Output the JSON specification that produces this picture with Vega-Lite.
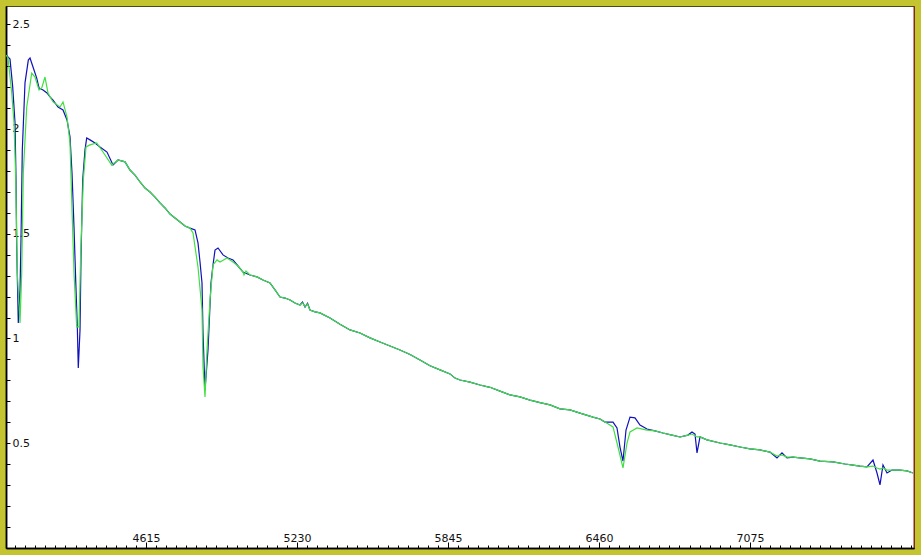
{
  "$schema": "https://vega.github.io/schema/vega-lite/v6.json",
  "width": 908,
  "height": 542,
  "autosize": {"type": "none"},
  "padding": {"left": 6, "top": 6, "right": 7, "bottom": 7},
  "background": "#c4c430",
  "config": {
    "view": {"fill": "white", "stroke": "#4a4a18", "strokeWidth": 1},
    "axis": {"labelFont": "DejaVu Sans", "labelFontSize": 11, "labelColor": "#111", "domainColor": "#000", "tickColor": "#000", "grid": false, "title": null, "domainWidth": 1.5}
  },
  "datasets": {
    "blue": [
      {"w": 4044.7, "f": 2.353}, {"w": 4061.0, "f": 2.334}, {"w": 4072.0, "f": 2.201}, {"w": 4081.4, "f": 2.029},
      {"w": 4085.5, "f": 1.757}, {"w": 4088.3, "f": 1.437}, {"w": 4094.8, "f": 1.074}, {"w": 4101.8, "f": 1.232},
      {"w": 4105.8, "f": 1.470}, {"w": 4111.1, "f": 1.900}, {"w": 4122.1, "f": 2.220}, {"w": 4135.6, "f": 2.329},
      {"w": 4142.5, "f": 2.339}, {"w": 4154.7, "f": 2.296}, {"w": 4169.8, "f": 2.243}, {"w": 4179.2, "f": 2.196},
      {"w": 4195.5, "f": 2.186}, {"w": 4211.7, "f": 2.172}, {"w": 4224.0, "f": 2.153}, {"w": 4236.2, "f": 2.138},
      {"w": 4256.6, "f": 2.105}, {"w": 4276.9, "f": 2.091}, {"w": 4293.2, "f": 2.043}, {"w": 4305.4, "f": 1.962},
      {"w": 4313.6, "f": 1.790}, {"w": 4321.7, "f": 1.532}, {"w": 4328.6, "f": 1.279}, {"w": 4335.2, "f": 1.055},
      {"w": 4339.2, "f": 0.859}, {"w": 4346.2, "f": 1.041}, {"w": 4350.2, "f": 1.389}, {"w": 4357.2, "f": 1.757},
      {"w": 4366.5, "f": 1.900}, {"w": 4373.5, "f": 1.957}, {"w": 4386.9, "f": 1.948}, {"w": 4407.3, "f": 1.933},
      {"w": 4427.6, "f": 1.914}, {"w": 4456.1, "f": 1.890}, {"w": 4480.6, "f": 1.828}, {"w": 4501.0, "f": 1.852},
      {"w": 4529.5, "f": 1.843}, {"w": 4549.8, "f": 1.804}, {"w": 4570.2, "f": 1.780}, {"w": 4590.6, "f": 1.747},
      {"w": 4610.9, "f": 1.718}, {"w": 4631.3, "f": 1.699}, {"w": 4651.7, "f": 1.675}, {"w": 4672.0, "f": 1.647},
      {"w": 4692.4, "f": 1.623}, {"w": 4712.8, "f": 1.594}, {"w": 4753.5, "f": 1.556}, {"w": 4773.9, "f": 1.537},
      {"w": 4794.2, "f": 1.527}, {"w": 4814.6, "f": 1.518}, {"w": 4826.8, "f": 1.456}, {"w": 4835.0, "f": 1.365},
      {"w": 4843.1, "f": 1.265}, {"w": 4847.2, "f": 1.026}, {"w": 4855.3, "f": 0.754}, {"w": 4861.4, "f": 0.850},
      {"w": 4867.5, "f": 0.945}, {"w": 4879.7, "f": 1.265}, {"w": 4887.9, "f": 1.351}, {"w": 4896.1, "f": 1.422},
      {"w": 4908.3, "f": 1.432}, {"w": 4928.6, "f": 1.399}, {"w": 4949.0, "f": 1.384}, {"w": 4969.4, "f": 1.375},
      {"w": 4989.7, "f": 1.346}, {"w": 5010.1, "f": 1.317}, {"w": 5038.6, "f": 1.303}, {"w": 5067.1, "f": 1.294},
      {"w": 5091.6, "f": 1.279}, {"w": 5120.1, "f": 1.265}, {"w": 5140.5, "f": 1.232}, {"w": 5160.8, "f": 1.198},
      {"w": 5181.2, "f": 1.193}, {"w": 5201.6, "f": 1.184}, {"w": 5221.9, "f": 1.169}, {"w": 5242.3, "f": 1.160},
      {"w": 5252.5, "f": 1.174}, {"w": 5262.7, "f": 1.150}, {"w": 5272.9, "f": 1.168}, {"w": 5283.0, "f": 1.136},
      {"w": 5303.4, "f": 1.127}, {"w": 5323.8, "f": 1.122},
      {"w": 5364.5, "f": 1.098}, {"w": 5405.2, "f": 1.068}, {"w": 5446.0, "f": 1.041}, {"w": 5486.7, "f": 1.026},
      {"w": 5527.4, "f": 1.003}, {"w": 5568.2, "f": 0.983}, {"w": 5608.9, "f": 0.964}, {"w": 5649.6, "f": 0.945},
      {"w": 5690.4, "f": 0.924}, {"w": 5731.1, "f": 0.897}, {"w": 5771.8, "f": 0.870}, {"w": 5812.6, "f": 0.850},
      {"w": 5853.3, "f": 0.831}, {"w": 5873.7, "f": 0.811}, {"w": 5894.0, "f": 0.802}, {"w": 5934.8, "f": 0.792},
      {"w": 5975.5, "f": 0.778}, {"w": 6016.2, "f": 0.767}, {"w": 6057.0, "f": 0.749}, {"w": 6097.7, "f": 0.731},
      {"w": 6138.4, "f": 0.721}, {"w": 6179.1, "f": 0.706}, {"w": 6219.9, "f": 0.694}, {"w": 6260.6, "f": 0.683},
      {"w": 6301.3, "f": 0.664}, {"w": 6342.1, "f": 0.659}, {"w": 6382.8, "f": 0.644}, {"w": 6435.8, "f": 0.625},
      {"w": 6464.3, "f": 0.616}, {"w": 6484.6, "f": 0.601}, {"w": 6517.2, "f": 0.601}, {"w": 6533.5, "f": 0.573},
      {"w": 6545.7, "f": 0.482}, {"w": 6557.9, "f": 0.415}, {"w": 6570.2, "f": 0.563}, {"w": 6586.5, "f": 0.625},
      {"w": 6606.8, "f": 0.621}, {"w": 6627.2, "f": 0.587}, {"w": 6655.7, "f": 0.568}, {"w": 6688.3, "f": 0.559},
      {"w": 6720.9, "f": 0.549}, {"w": 6757.6, "f": 0.539}, {"w": 6790.2, "f": 0.530}, {"w": 6822.7, "f": 0.539},
      {"w": 6839.0, "f": 0.554}, {"w": 6851.2, "f": 0.544}, {"w": 6859.4, "f": 0.454}, {"w": 6871.6, "f": 0.530},
      {"w": 6900.1, "f": 0.516}, {"w": 6953.1, "f": 0.501}, {"w": 6993.8, "f": 0.492}, {"w": 7034.5, "f": 0.482},
      {"w": 7075.3, "f": 0.473}, {"w": 7116.0, "f": 0.468}, {"w": 7156.7, "f": 0.458}, {"w": 7185.2, "f": 0.430},
      {"w": 7205.6, "f": 0.454}, {"w": 7226.0, "f": 0.430}, {"w": 7250.4, "f": 0.434}, {"w": 7278.9, "f": 0.430},
      {"w": 7319.7, "f": 0.425}, {"w": 7360.4, "f": 0.415}, {"w": 7413.4, "f": 0.411}, {"w": 7462.2, "f": 0.401},
      {"w": 7494.8, "f": 0.396}, {"w": 7523.3, "f": 0.391}, {"w": 7551.8, "f": 0.387}, {"w": 7576.3, "f": 0.420},
      {"w": 7592.6, "f": 0.358}, {"w": 7604.8, "f": 0.301}, {"w": 7617.0, "f": 0.396}, {"w": 7633.3, "f": 0.358},
      {"w": 7653.7, "f": 0.372}, {"w": 7686.3, "f": 0.372}, {"w": 7714.8, "f": 0.368}, {"w": 7739.2, "f": 0.358}
    ],
    "green": [
      {"w": 4044.7, "f": 2.353}, {"w": 4052.9, "f": 2.339}, {"w": 4068.0, "f": 2.172}, {"w": 4077.3, "f": 2.029},
      {"w": 4084.2, "f": 1.771}, {"w": 4090.8, "f": 1.313}, {"w": 4101.8, "f": 1.074}, {"w": 4108.7, "f": 1.313},
      {"w": 4115.2, "f": 1.790}, {"w": 4129.1, "f": 2.105}, {"w": 4149.4, "f": 2.267}, {"w": 4162.9, "f": 2.248},
      {"w": 4179.2, "f": 2.186}, {"w": 4190.2, "f": 2.196}, {"w": 4203.6, "f": 2.248}, {"w": 4215.8, "f": 2.172},
      {"w": 4236.2, "f": 2.129}, {"w": 4264.7, "f": 2.105}, {"w": 4276.9, "f": 2.129}, {"w": 4293.2, "f": 2.057},
      {"w": 4305.4, "f": 1.933}, {"w": 4312.4, "f": 1.661}, {"w": 4321.7, "f": 1.313}, {"w": 4332.7, "f": 1.055},
      {"w": 4342.1, "f": 1.055}, {"w": 4349.0, "f": 1.408}, {"w": 4359.6, "f": 1.757}, {"w": 4370.6, "f": 1.914},
      {"w": 4386.9, "f": 1.924}, {"w": 4414.2, "f": 1.933}, {"w": 4439.8, "f": 1.890}, {"w": 4475.3, "f": 1.828},
      {"w": 4501.0, "f": 1.852}, {"w": 4529.5, "f": 1.843}, {"w": 4549.8, "f": 1.804}, {"w": 4570.2, "f": 1.780},
      {"w": 4590.6, "f": 1.747}, {"w": 4610.9, "f": 1.718}, {"w": 4631.3, "f": 1.699}, {"w": 4651.7, "f": 1.675},
      {"w": 4672.0, "f": 1.647}, {"w": 4692.4, "f": 1.623}, {"w": 4712.8, "f": 1.594}, {"w": 4753.5, "f": 1.556},
      {"w": 4773.9, "f": 1.537}, {"w": 4794.2, "f": 1.527}, {"w": 4806.4, "f": 1.504}, {"w": 4826.8, "f": 1.341},
      {"w": 4843.1, "f": 1.136}, {"w": 4847.2, "f": 0.864}, {"w": 4855.3, "f": 0.721}, {"w": 4863.5, "f": 0.945},
      {"w": 4875.7, "f": 1.184}, {"w": 4887.9, "f": 1.351}, {"w": 4904.2, "f": 1.375}, {"w": 4916.4, "f": 1.365},
      {"w": 4944.9, "f": 1.384}, {"w": 4969.4, "f": 1.365}, {"w": 4989.7, "f": 1.346}, {"w": 5010.1, "f": 1.317},
      {"w": 5014.2, "f": 1.303}, {"w": 5022.3, "f": 1.322}, {"w": 5038.6, "f": 1.303}, {"w": 5067.1, "f": 1.294},
      {"w": 5091.6, "f": 1.279}, {"w": 5120.1, "f": 1.265}, {"w": 5140.5, "f": 1.232}, {"w": 5160.8, "f": 1.198},
      {"w": 5181.2, "f": 1.193}, {"w": 5201.6, "f": 1.184}, {"w": 5221.9, "f": 1.169}, {"w": 5242.3, "f": 1.160},
      {"w": 5252.5, "f": 1.170}, {"w": 5262.7, "f": 1.152}, {"w": 5272.9, "f": 1.164}, {"w": 5283.0, "f": 1.136},
      {"w": 5303.4, "f": 1.127}, {"w": 5323.8, "f": 1.122},
      {"w": 5364.5, "f": 1.098}, {"w": 5405.2, "f": 1.068}, {"w": 5446.0, "f": 1.041}, {"w": 5486.7, "f": 1.026},
      {"w": 5527.4, "f": 1.003}, {"w": 5568.2, "f": 0.983}, {"w": 5608.9, "f": 0.964}, {"w": 5649.6, "f": 0.945},
      {"w": 5690.4, "f": 0.924}, {"w": 5731.1, "f": 0.897}, {"w": 5771.8, "f": 0.870}, {"w": 5812.6, "f": 0.850},
      {"w": 5853.3, "f": 0.831}, {"w": 5873.7, "f": 0.811}, {"w": 5894.0, "f": 0.802}, {"w": 5934.8, "f": 0.792},
      {"w": 5975.5, "f": 0.778}, {"w": 6016.2, "f": 0.767}, {"w": 6057.0, "f": 0.749}, {"w": 6097.7, "f": 0.731},
      {"w": 6138.4, "f": 0.721}, {"w": 6179.1, "f": 0.706}, {"w": 6219.9, "f": 0.694}, {"w": 6260.6, "f": 0.683},
      {"w": 6301.3, "f": 0.664}, {"w": 6342.1, "f": 0.659}, {"w": 6382.8, "f": 0.644}, {"w": 6435.8, "f": 0.625},
      {"w": 6464.3, "f": 0.616}, {"w": 6484.6, "f": 0.601}, {"w": 6517.2, "f": 0.578}, {"w": 6537.6, "f": 0.482},
      {"w": 6557.9, "f": 0.382}, {"w": 6574.3, "f": 0.501}, {"w": 6586.5, "f": 0.554}, {"w": 6615.0, "f": 0.573},
      {"w": 6655.7, "f": 0.563}, {"w": 6688.3, "f": 0.559}, {"w": 6720.9, "f": 0.549}, {"w": 6757.6, "f": 0.539},
      {"w": 6790.2, "f": 0.530}, {"w": 6822.7, "f": 0.539}, {"w": 6839.0, "f": 0.544}, {"w": 6859.4, "f": 0.530},
      {"w": 6871.6, "f": 0.530}, {"w": 6900.1, "f": 0.516}, {"w": 6953.1, "f": 0.501}, {"w": 6993.8, "f": 0.492},
      {"w": 7034.5, "f": 0.482}, {"w": 7075.3, "f": 0.473}, {"w": 7116.0, "f": 0.468}, {"w": 7156.7, "f": 0.458},
      {"w": 7185.2, "f": 0.439}, {"w": 7205.6, "f": 0.444}, {"w": 7226.0, "f": 0.434}, {"w": 7250.4, "f": 0.434},
      {"w": 7278.9, "f": 0.430}, {"w": 7319.7, "f": 0.425}, {"w": 7360.4, "f": 0.415}, {"w": 7413.4, "f": 0.411},
      {"w": 7462.2, "f": 0.401}, {"w": 7494.8, "f": 0.396}, {"w": 7523.3, "f": 0.391}, {"w": 7551.8, "f": 0.387},
      {"w": 7576.3, "f": 0.391}, {"w": 7592.6, "f": 0.382}, {"w": 7604.8, "f": 0.377}, {"w": 7617.0, "f": 0.382},
      {"w": 7633.3, "f": 0.372}, {"w": 7653.7, "f": 0.372}, {"w": 7686.3, "f": 0.372}, {"w": 7714.8, "f": 0.368},
      {"w": 7739.2, "f": 0.358}
    ]
  },
  "resolve": {"axis": {"x": "independent", "y": "independent"}},
  "layer": [
    {
      "data": {"name": "blue"},
      "mark": {"type": "line", "color": "#1010bc", "strokeWidth": 1.2, "clip": true},
      "encoding": {
        "x": {
          "field": "w", "type": "quantitative",
          "scale": {"domain": [4044.7, 7743.3], "nice": false, "zero": false},
          "axis": {
            "orient": "top", "offset": -542,
            "values": [4615, 5230, 5845, 6460, 7075],
            "format": "d",
            "tickSize": 6,
            "labelPadding": -1,
            "labelOverlap": false, "labelBound": false, "labelFlush": false
          }
        },
        "y": {
          "field": "f", "type": "quantitative",
          "scale": {"domain": [0, 2.587], "nice": false, "zero": false},
          "axis": {
            "orient": "right", "offset": -908,
            "values": [0.5, 1, 1.5, 2, 2.5],
            "format": "~g",
            "tickSize": 4,
            "labelPadding": 2,
            "labelOverlap": false, "labelBound": false, "labelFlush": false
          }
        }
      }
    },
    {
      "data": {"name": "green"},
      "mark": {"type": "line", "color": "#40e040", "strokeWidth": 1.2, "clip": true},
      "encoding": {
        "x": {
          "field": "w", "type": "quantitative",
          "axis": {
            "orient": "top", "offset": -542,
            "values": [4082,4123,4164,4205,4246,4287,4328,4369,4410,4451,4492,4533,4574,4656,4697,4738,4779,4820,4861,4902,4943,4984,5025,5066,5107,5148,5189,5271,5312,5353,5394,5435,5476,5517,5558,5599,5640,5681,5722,5763,5804,5886,5927,5968,6009,6050,6091,6132,6173,6214,6255,6296,6337,6378,6419,6501,6542,6583,6624,6665,6706,6747,6788,6829,6870,6911,6952,6993,7034,7116,7157,7198,7239,7280,7321,7362,7403,7444,7485,7526,7567,7608,7649,7690,7731],
            "labels": false,
            "tickSize": 3
          }
        },
        "y": {
          "field": "f", "type": "quantitative",
          "axis": {
            "orient": "right", "offset": -908,
            "values": [0.1,0.2,0.3,0.4,0.6,0.7,0.8,0.9,1.1,1.2,1.3,1.4,1.6,1.7,1.8,1.9,2.1,2.2,2.3,2.4],
            "labels": false,
            "tickSize": 4
          }
        }
      }
    },
    {
      "data": {"values": [{"edge": 7743.3}]},
      "mark": {"type": "rule", "color": "#a01818", "strokeWidth": 1},
      "encoding": {"x": {"field": "edge", "type": "quantitative", "axis": null}}
    }
  ]
}
